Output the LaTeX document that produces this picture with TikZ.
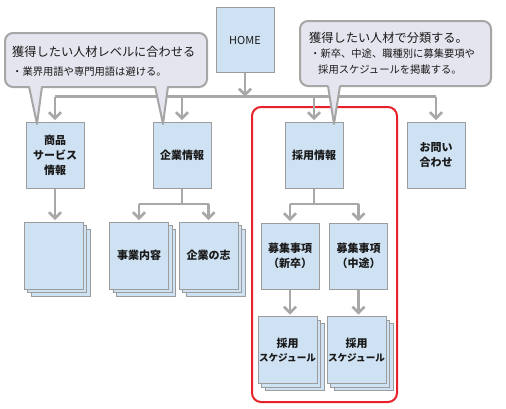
\documentclass[tikz,border=0pt]{standalone}
\usepackage{fontspec}
\setmainfont{Noto Sans CJK JP}
\usetikzlibrary{arrows.meta,shadows}
\definecolor{boxblue}{HTML}{CFE2F3}
\definecolor{boxline}{HTML}{9C9C9C}
\definecolor{conn}{HTML}{A8A8A8}
\definecolor{callfill}{HTML}{E5E5EF}
\definecolor{callline}{HTML}{A6A6A6}
\definecolor{redframe}{HTML}{E8202A}
\definecolor{txt}{HTML}{1A1A1A}
\newcommand{\smallkana}[1]{{\fontsize{9.6}{14}\selectfont #1}}
\begin{document}
\begin{tikzpicture}[x=1pt,y=-1pt,
  box/.style={draw=boxline, fill=boxblue, line width=1pt, minimum width=58pt, minimum height=66pt,
    inner sep=0pt, align=center, text=txt, font=\bfseries\fontsize{11}{15}\selectfont},
  stackbox/.style={box, minimum width=59pt, minimum height=67pt,
    copy shadow={shadow xshift=7pt,shadow yshift=-7pt},
    copy shadow={shadow xshift=3.5pt,shadow yshift=-3.5pt}},
  schedbox/.style={stackbox, font=\bfseries\fontsize{11}{14}\selectfont},
  conline/.style={draw=conn, line width=2.5pt},
  arr/.style={conline, -{Straight Barb[length=6pt,width=12pt]}},
  callbox/.style={draw=callline, fill=callfill, line width=2pt, rounded corners=8pt, inner sep=0pt},
  calltitle/.style={anchor=west, inner sep=0pt, text=txt, font=\fontsize{12.2}{14}\selectfont},
  callsub/.style={anchor=west, inner sep=0pt, text=txt, font=\fontsize{10.3}{13}\selectfont},
]
\useasboundingbox (0,0) rectangle (506,408);
\fill[white] (0,0) rectangle (506,408);

% red frame
\draw[redframe, line width=2pt, rounded corners=9pt] (252,107) rectangle (397,402);

% nodes
\node[box, minimum height=65pt, font=\fontsize{11}{15}\selectfont] (home) at (245,40) {HOME};
\node[box] (shohin) at (55,155) {商品\\サービス\\情報};
\node[box] (kigyo) at (182,155) {企業情報};
\node[box] (saiyo) at (314,155) {採用情報};
\node[box] (otoi) at (436,155) {お問い\\合わせ};

\node[stackbox] (sub1) at (53.5,255.5) {};
\node[stackbox] (jigyo) at (139,255.5) {事業内容};
\node[stackbox] (kokoro) at (208.5,255.5) {企業の志};

\node[box] (shin) at (290,256) {募集事項\\（新卒）};
\node[box] (chuto) at (358.5,256) {募集事項\\（中途）};

\node[schedbox] (sch1) at (287.5,350) {採用\\\smallkana{スケジュール}};
\node[schedbox] (sch2) at (356.5,350) {採用\\\smallkana{スケジュール}};

% connectors
\coordinate (bus) at (245,96.5);
\coordinate (br1) at (182,204);
\coordinate (br2) at (314,204);
\draw[conline] (shohin.north |- bus) -- (otoi.north |- bus);
\draw[arr] (home.south) -- (bus);
\foreach \n in {shohin,kigyo,saiyo,otoi}
  \draw[arr] (\n.north |- bus) -- ([yshift=1.5pt]\n.north);

\draw[arr] (shohin.south) -- ([yshift=1.5pt]shohin.south |- sub1.north);

\draw[conline] (kigyo.south) -- (br1);
\draw[conline] (jigyo.north |- br1) -- (kokoro.north |- br1);
\draw[arr] (jigyo.north |- br1) -- ([yshift=1.5pt]jigyo.north);
\draw[arr] (kokoro.north |- br1) -- ([yshift=1.5pt]kokoro.north);

\draw[conline] (saiyo.south) -- (br2);
\draw[conline] (shin.north |- br2) -- (chuto.north |- br2);
\draw[arr] (shin.north |- br2) -- ([yshift=1.5pt]shin.north);
\draw[arr] (chuto.north |- br2) -- ([yshift=1.5pt]chuto.north);

\draw[arr] (shin.south) -- ([yshift=1.5pt]shin.south |- sch1.north);
\draw[arr] (chuto.south) -- ([yshift=1.5pt]chuto.south |- sch2.north);

% callout 1
\node[callbox, minimum width=202pt, minimum height=54pt] (call1) at (106,60) {};
\fill[callfill] (29,84.5) -- (37,124) -- (42,84.5) -- cycle;
\draw[callline, line width=2pt, line join=round] (29,86.5) -- (37,124) -- (42,86.5);
\fill[callfill] (155,84.5) -- (163,124) -- (168,84.5) -- cycle;
\draw[callline, line width=2pt, line join=round] (155,86.5) -- (163,124) -- (168,86.5);
\node[calltitle] (c1t) at (12,52) {獲得したい人材レベルに合わせる};
\node[callsub] (c1s) at (12,72) {・業界用語や専門用語は避ける。};

% callout 2
\node[callbox, minimum width=191pt, minimum height=65pt] (call2) at (395.5,53.5) {};
\fill[callfill] (328,84) -- (334,124) -- (340,84) -- cycle;
\draw[callline, line width=2pt, line join=round] (328,86) -- (334,124) -- (340,86);
\node[calltitle] (c2t) at (309,38) {獲得したい人材で分類する。};
\node[callsub] (c2s) at (310,54) {・新卒、中途、職種別に募集要項や};
\node[callsub] (c2u) at (318,70) {採用スケジュールを掲載する。};
\end{tikzpicture}
\end{document}
